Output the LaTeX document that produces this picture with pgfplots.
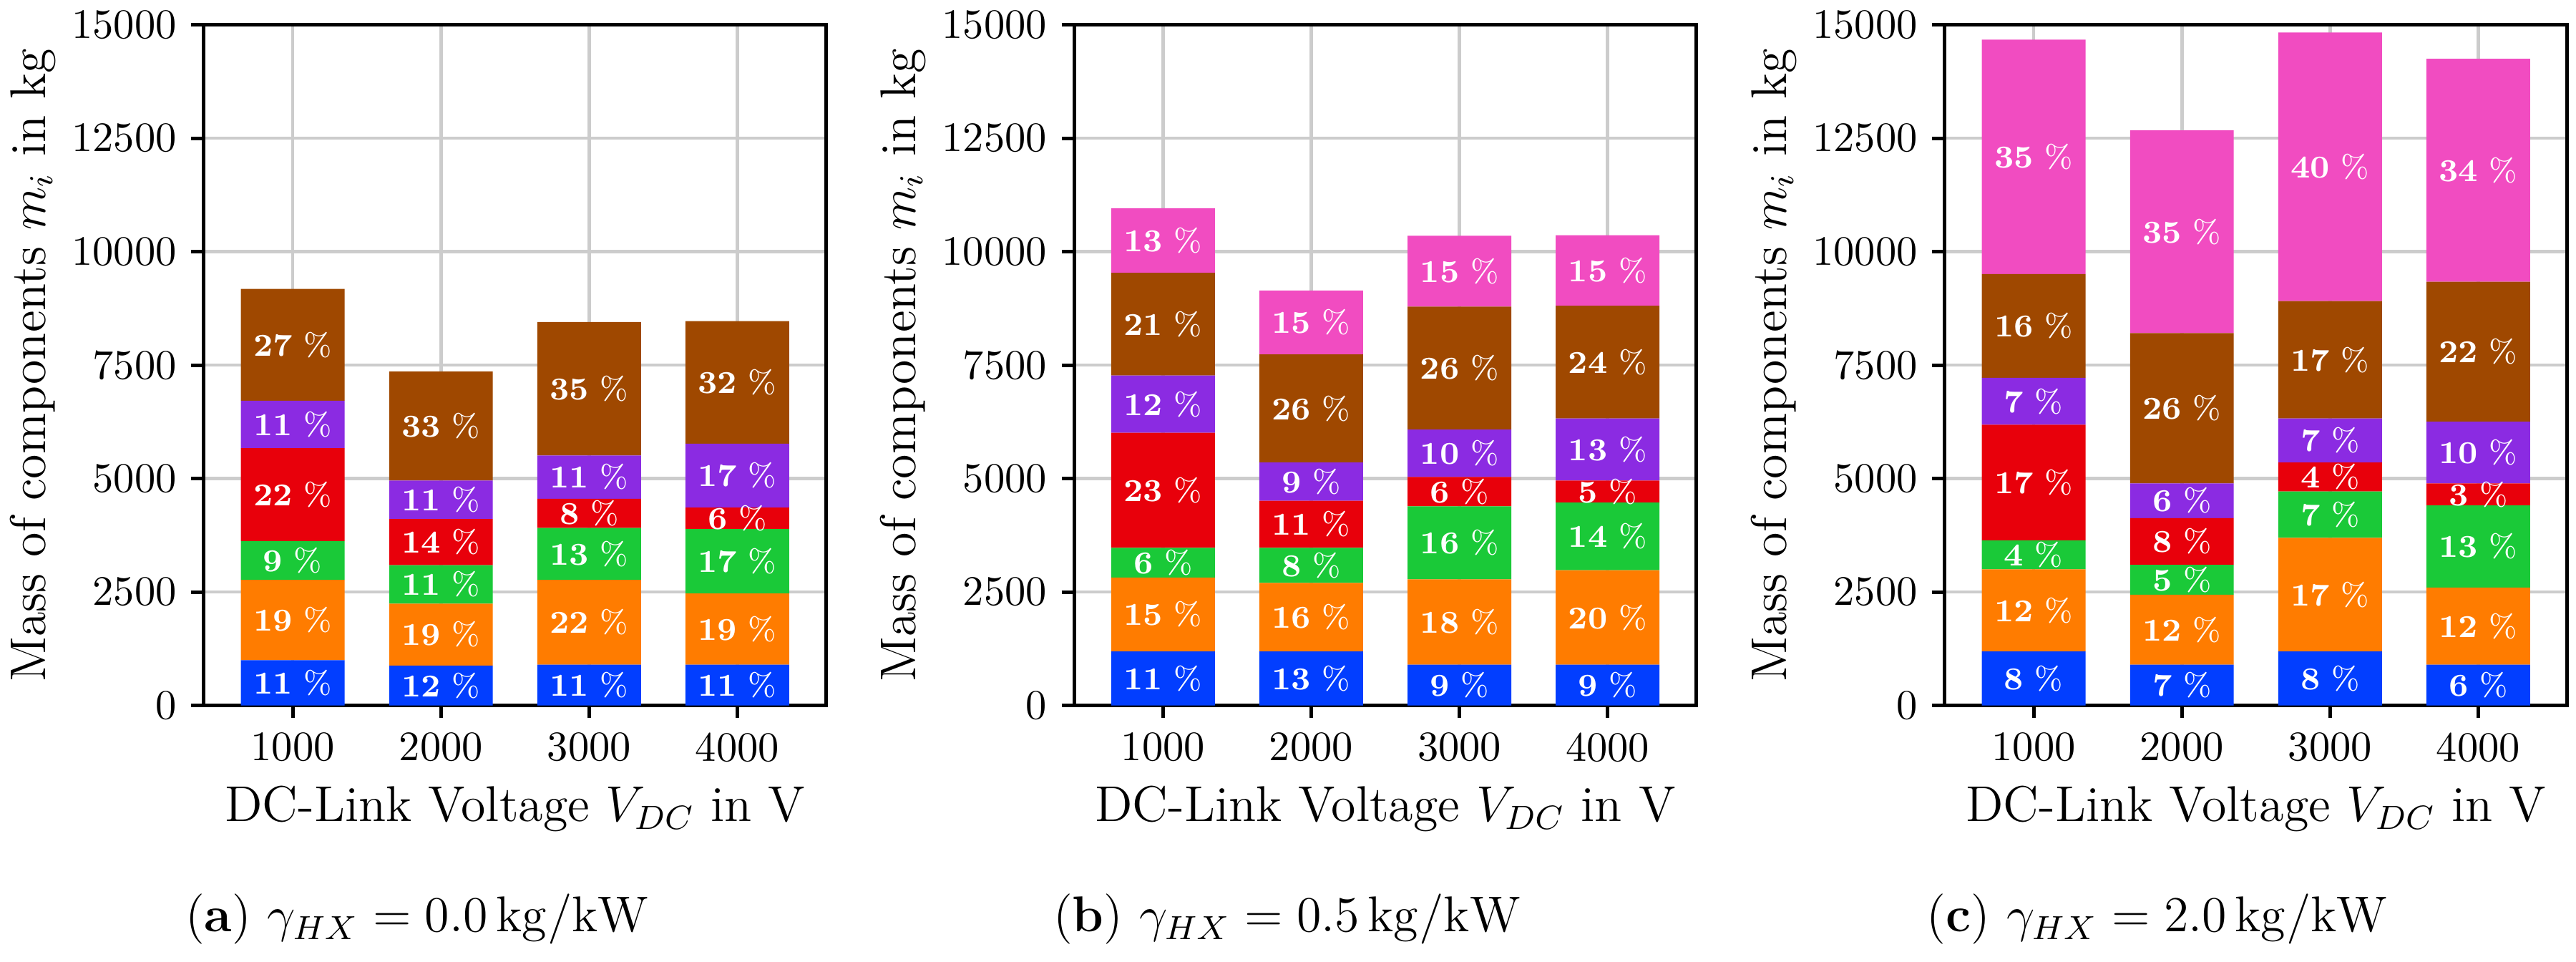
\documentclass[border=0pt]{standalone}
\usepackage{pgfplots}
\pgfplotsset{compat=1.18}
\definecolor{cB}{HTML}{023EFF}
\definecolor{cO}{HTML}{FF7C00}
\definecolor{cG}{HTML}{1AC938}
\definecolor{cR}{HTML}{E8000B}
\definecolor{cP}{HTML}{8B2BE2}
\definecolor{cN}{HTML}{9F4800}
\definecolor{cK}{HTML}{F14CC1}
\definecolor{gridc}{HTML}{CCCCCC}
\pgfplotsset{
  geom/.style={scale only axis, width=148.7pt, height=162.6pt,
    xmin=-0.6, xmax=3.6, ymin=0, ymax=15000, anchor=south west},
  panel/.style={geom, ybar stacked, bar width=0.7,
    xtick={0,1,2,3}, xticklabels={1000,2000,3000,4000},
    ytick={0,2500,5000,7500,10000,12500,15000},
    yticklabels={0,2500,5000,7500,10000,12500,15000},
    scaled y ticks=false, scaled x ticks=false,
    tick pos=left, tick align=outside, major tick length=3pt,
    grid=major, major grid style={draw=gridc, line width=0.8pt},
    axis line style={line width=0.85pt},
    tick style={black, line width=0.85pt},
    xlabel={DC-Link Voltage $V_{DC}$ in V},
    ylabel={Mass of components $m_i$ in kg},
    every axis x label/.style={at={(axis description cs:0.5,0)}, anchor=base, yshift=-27.7pt, font=\fontsize{12}{14}\selectfont},
    every axis y label/.style={at={(axis description cs:-0.2549,0.5)}, rotate=90, anchor=base, font=\fontsize{12}{14}\selectfont},
  },
  lab/.style={geom, hide axis, clip=false},
  pct/.style={draw=none, mark=none, nodes near coords={\textbf{\pgfplotspointmeta}~\%},
    point meta=explicit symbolic,
    every node near coord/.append style={anchor=center, text=white, font=\fontsize{7.6}{9}\selectfont, inner sep=0pt}},
}
\begin{document}
\begin{tikzpicture}
\path[use as bounding box] (0,0) rectangle (615.4pt,229.7pt);
% ---------------- (a)
\begin{axis}[panel, at={(48.7pt,61.2pt)}]
\addplot[fill=cB, draw=none] coordinates {(0,1000) (1,880) (2,900) (3,900)};
\addplot[fill=cO, draw=none] coordinates {(0,1770) (1,1365) (2,1870) (3,1570)};
\addplot[fill=cG, draw=none] coordinates {(0,855) (1,845) (2,1140) (3,1420)};
\addplot[fill=cR, draw=none] coordinates {(0,2045) (1,1020) (2,645) (3,470)};
\addplot[fill=cP, draw=none] coordinates {(0,1045) (1,845) (2,955) (3,1410)};
\addplot[fill=cN, draw=none] coordinates {(0,2465) (1,2405) (2,2940) (3,2700)};
\end{axis}
\begin{axis}[lab, at={(48.7pt,61.2pt)}]
\addplot[pct] coordinates {
(0,500)[11] (0,1885)[19] (0,3198)[9] (0,4648)[22] (0,6193)[11] (0,7948)[27]
(1,440)[12] (1,1563)[19] (1,2668)[11] (1,3600)[14] (1,4533)[11] (1,6158)[33]
(2,450)[11] (2,1835)[22] (2,3340)[13] (2,4233)[8] (2,5033)[11] (2,6980)[35]
(3,450)[11] (3,1685)[19] (3,3180)[17] (3,4125)[6] (3,5065)[17] (3,7120)[32]
};
\end{axis}
% ---------------- (b)
\begin{axis}[panel, at={(256.6pt,61.2pt)}]
\addplot[fill=cB, draw=none] coordinates {(0,1190) (1,1190) (2,900) (3,900)};
\addplot[fill=cO, draw=none] coordinates {(0,1630) (1,1510) (2,1880) (3,2080)};
\addplot[fill=cG, draw=none] coordinates {(0,655) (1,775) (2,1610) (3,1490)};
\addplot[fill=cR, draw=none] coordinates {(0,2535) (1,1035) (2,645) (3,485)};
\addplot[fill=cP, draw=none] coordinates {(0,1260) (1,845) (2,1045) (3,1370)};
\addplot[fill=cN, draw=none] coordinates {(0,2265) (1,2380) (2,2710) (3,2485)};
\addplot[fill=cK, draw=none] coordinates {(0,1420) (1,1410) (2,1560) (3,1550)};
\end{axis}
\begin{axis}[lab, at={(256.6pt,61.2pt)}]
\addplot[pct] coordinates {
(0,595)[11] (0,2005)[15] (0,3148)[6] (0,4743)[23] (0,6640)[12] (0,8403)[21] (0,10245)[13]
(1,595)[13] (1,1945)[16] (1,3088)[8] (1,3993)[11] (1,4933)[9] (1,6545)[26] (1,8440)[15]
(2,450)[9] (2,1840)[18] (2,3585)[16] (2,4713)[6] (2,5558)[10] (2,7435)[26] (2,9570)[15]
(3,450)[9] (3,1940)[20] (3,3725)[14] (3,4713)[5] (3,5640)[13] (3,7568)[24] (3,9585)[15]
};
\end{axis}
% ---------------- (c)
\begin{axis}[panel, at={(464.6pt,61.2pt)}]
\addplot[fill=cB, draw=none] coordinates {(0,1190) (1,900) (2,1190) (3,900)};
\addplot[fill=cO, draw=none] coordinates {(0,1810) (1,1540) (2,2505) (3,1700)};
\addplot[fill=cG, draw=none] coordinates {(0,640) (1,660) (2,1020) (3,1810)};
\addplot[fill=cR, draw=none] coordinates {(0,2545) (1,1030) (2,640) (3,485)};
\addplot[fill=cP, draw=none] coordinates {(0,1035) (1,765) (2,970) (3,1360)};
\addplot[fill=cN, draw=none] coordinates {(0,2285) (1,3310) (2,2585) (3,3080)};
\addplot[fill=cK, draw=none] coordinates {(0,5165) (1,4465) (2,5920) (3,4915)};
\end{axis}
\begin{axis}[lab, at={(464.6pt,61.2pt)}]
\addplot[pct] coordinates {
(0,595)[8] (0,2095)[12] (0,3320)[4] (0,4913)[17] (0,6703)[7] (0,8363)[16] (0,12088)[35]
(1,450)[7] (1,1670)[12] (1,2770)[5] (1,3615)[8] (1,4513)[6] (1,6550)[26] (1,10438)[35]
(2,595)[8] (2,2443)[17] (2,4205)[7] (2,5035)[4] (2,5840)[7] (2,7618)[17] (2,11870)[40]
(3,450)[6] (3,1750)[12] (3,3505)[13] (3,4653)[3] (3,5575)[10] (3,7795)[22] (3,11793)[34]
};
\end{axis}
% ---------------- captions
\node[anchor=base, font=\fontsize{12}{14}\selectfont] at (99.7pt,7.2pt) {(\textbf{a}) $\gamma_{HX} = 0.0\,\mathrm{kg}/\mathrm{kW}$};
\node[anchor=base, font=\fontsize{12}{14}\selectfont] at (307.5pt,7.2pt) {(\textbf{b}) $\gamma_{HX} = 0.5\,\mathrm{kg}/\mathrm{kW}$};
\node[anchor=base, font=\fontsize{12}{14}\selectfont] at (515.4pt,7.2pt) {(\textbf{c}) $\gamma_{HX} = 2.0\,\mathrm{kg}/\mathrm{kW}$};
\end{tikzpicture}
\end{document}
